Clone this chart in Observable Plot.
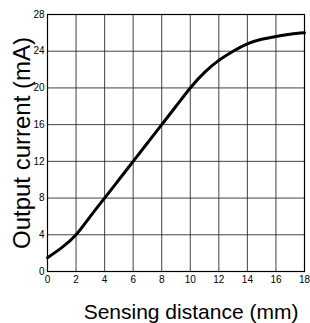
<!DOCTYPE html>
<html>
<head>
<meta charset="utf-8">
<script src="https://cdn.jsdelivr.net/npm/d3@7"></script>
<script src="https://cdn.jsdelivr.net/npm/@observablehq/plot@0.6"></script>
<style>
  html, body { margin: 0; padding: 0; background: #fff; }
</style>
</head>
<body>
<div id="chart"></div>
<script>
const distance = [0, 1, 2, 3, 4, 5, 6, 7, 8, 9, 10, 11, 12, 13, 14, 15, 16, 17, 18];
const current = [1.5, 2.6, 4.0, 6.0, 8.0, 10.0, 12.0, 14.0, 16.0, 18.0, 20.0, 21.7, 23.0, 24.0, 24.8, 25.3, 25.6, 25.85, 26.0];
const xTicks = [0, 2, 4, 6, 8, 10, 12, 14, 16, 18];
const yTicks = [0, 4, 8, 12, 16, 20, 24, 28];
const xLabel = "Sensing distance (mm)";
const yLabel = "Output current (mA)";

const data = distance.map((d, i) => ({x: d, y: current[i]}));

const chart = Plot.plot({
  width: 310,
  height: 323,
  marginLeft: 47,
  marginRight: 6,
  marginTop: 14,
  marginBottom: 52,
  style: {fontFamily: "'Liberation Sans Narrow', 'Liberation Sans', Arial, sans-serif", fontSize: "10px", background: "#fff", color: "#000"},
  x: {domain: [0, 18], ticks: xTicks, label: null},
  y: {domain: [0, 28], ticks: yTicks, label: null},
  marks: [
    Plot.gridX(xTicks, {stroke: "#222", strokeOpacity: 0.85, strokeWidth: 1}),
    Plot.gridY(yTicks, {stroke: "#222", strokeOpacity: 0.85, strokeWidth: 1}),
    Plot.axisX({ticks: xTicks, tickSize: 0, tickPadding: 4, label: null}),
    Plot.axisY({ticks: yTicks, tickSize: 0, tickPadding: 3, label: null}),
    Plot.frame({stroke: "#000", strokeWidth: 1.2}),
    Plot.line(data, {x: "x", y: "y", curve: "natural", stroke: "#000", strokeWidth: 3}),
    Plot.text([xLabel], {frameAnchor: "bottom", textAnchor: "middle", dx: 15, dy: 47, fontSize: 21, fontFamily: "'Liberation Sans', Arial, sans-serif", fill: "#000"}),
    Plot.text([yLabel], {frameAnchor: "left", textAnchor: "middle", dx: -25, rotate: -90, fontSize: 24, fontFamily: "'Liberation Sans', Arial, sans-serif", fill: "#000"})
  ]
});
document.getElementById("chart").appendChild(chart);
</script>
</body>
</html>
